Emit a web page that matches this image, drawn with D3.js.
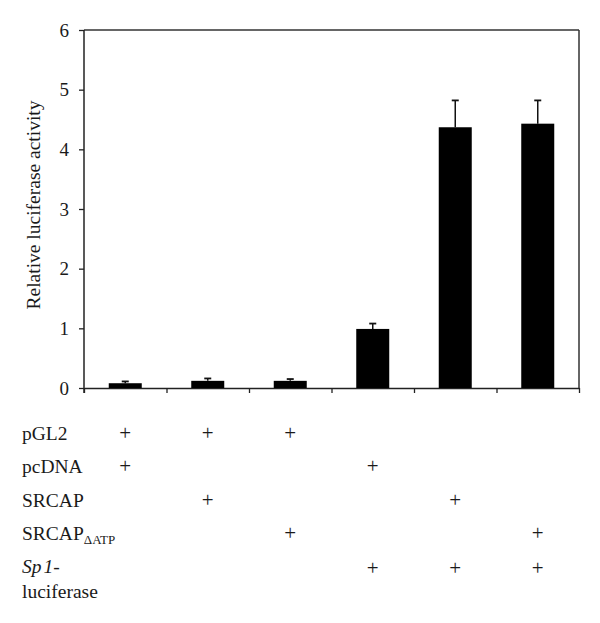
<!DOCTYPE html>
<html>
<head>
<meta charset="utf-8">
<script src="https://cdn.jsdelivr.net/npm/d3@7"></script>
<style>
  html, body { margin: 0; padding: 0; background: #fff; }
  svg text { font-family: "Liberation Serif", "Times New Roman", serif; fill: #1a1a1a; }
</style>
</head>
<body>
<svg id="chart" width="600" height="623"></svg>
<script>
// ---- data ----
const categories = ["pGL2+pcDNA", "pGL2+SRCAP", "pGL2+SRCAPdATP", "Sp1luc+pcDNA", "Sp1luc+SRCAP", "Sp1luc+SRCAPdATP"];
const values = [0.08, 0.12, 0.12, 0.99, 4.37, 4.43];
const errors = [0.03, 0.04, 0.03, 0.09, 0.45, 0.39];
const yTicks = [0, 1, 2, 3, 4, 5, 6];
const yLabel = "Relative luciferase activity";
const rowLabels = ["pGL2", "pcDNA", "SRCAP", "SRCAP_ΔATP", "Sp1-luciferase"];
const rowMarks = [
  [1, 1, 1, 0, 0, 0],
  [1, 0, 0, 1, 0, 0],
  [0, 1, 0, 0, 1, 0],
  [0, 0, 1, 0, 0, 1],
  [0, 0, 0, 1, 1, 1]
];

// ---- layout ----
const svg = d3.select("#chart");
const pL = 84, pR = 579, pT = 30, pB = 388;

const x = d3.scaleBand().domain(categories).range([pL, pR]).paddingInner(0.6).paddingOuter(0.3);
const xEdges = d3.scaleLinear().domain([0, categories.length]).range([pL, pR]);
const y = d3.scaleLinear().domain([0, 6]).range([pB, pT]);

// frame (top and right)
svg.append("line").attr("x1", pL).attr("x2", pR).attr("y1", pT).attr("y2", pT)
  .attr("stroke", "#333").attr("stroke-width", 1.5);
svg.append("line").attr("x1", pR).attr("x2", pR).attr("y1", pT).attr("y2", pB)
  .attr("stroke", "#333").attr("stroke-width", 1.5);

// y axis
const yAxis = svg.append("g").attr("transform", `translate(${pL},0)`)
  .call(d3.axisLeft(y).tickValues(yTicks).tickFormat(d3.format("d")).tickSize(5).tickPadding(10));
yAxis.select(".domain").attr("stroke", "#222").attr("stroke-width", 1.5).attr("d", `M0,${pT}V${pB + 5}`);
yAxis.selectAll(".tick line").attr("stroke", "#222").attr("stroke-width", 1.3);
yAxis.selectAll(".tick text").attr("font-size", 19).attr("fill", "#1a1a1a")
  .style("font-family", '"Liberation Serif", serif');

// x axis (boundary ticks, no labels)
const xAxis = svg.append("g").attr("transform", `translate(0,${pB})`)
  .call(d3.axisBottom(xEdges).tickValues(d3.range(categories.length + 1)).tickFormat("").tickSize(5).tickSizeOuter(0));
xAxis.select(".domain").attr("stroke", "#222").attr("stroke-width", 1.5);
xAxis.selectAll(".tick line").attr("stroke", "#222").attr("stroke-width", 1.3);

// y label
svg.append("text")
  .attr("transform", `translate(40,${(pT + pB) / 2 - 4}) rotate(-90)`)
  .attr("text-anchor", "middle")
  .attr("font-size", 19.5)
  .text(yLabel);

// error bars
const eb = svg.append("g");
categories.forEach((c, i) => {
  const cx = x(c) + x.bandwidth() / 2;
  eb.append("line").attr("x1", cx).attr("x2", cx)
    .attr("y1", y(values[i])).attr("y2", y(values[i] + errors[i]))
    .attr("stroke", "#111").attr("stroke-width", 1.5);
  eb.append("line").attr("x1", cx - 3.5).attr("x2", cx + 3.5)
    .attr("y1", y(values[i] + errors[i])).attr("y2", y(values[i] + errors[i]))
    .attr("stroke", "#111").attr("stroke-width", 1.8);
});

// bars
svg.append("g").selectAll("rect").data(categories).join("rect")
  .attr("x", d => x(d))
  .attr("width", x.bandwidth())
  .attr("y", (d, i) => y(values[i]))
  .attr("height", (d, i) => pB - y(values[i]))
  .attr("fill", "#000");

// table below
const rowBase = [440, 473.3, 506.6, 540, 573.3];
const tbl = svg.append("g");
rowLabels.forEach((lab, r) => {
  const t = tbl.append("text").attr("x", 22).attr("y", rowBase[r]).attr("font-size", 19.5);
  if (lab === "SRCAP_ΔATP") {
    t.append("tspan").text("SRCAP");
    t.append("tspan").attr("font-size", 13).attr("dy", 3.5).text("ΔATP");
  } else if (lab === "Sp1-luciferase") {
    t.append("tspan").attr("font-style", "italic").text("Sp");
    t.append("tspan").attr("font-style", "italic").attr("dx", 2).text("1");
    t.append("tspan").text("-");
    tbl.append("text").attr("x", 22).attr("y", rowBase[r] + 25).attr("font-size", 19.5).text("luciferase");
  } else {
    t.text(lab);
  }
  rowMarks[r].forEach((m, i) => {
    if (m) {
      tbl.append("text")
        .attr("x", x(categories[i]) + x.bandwidth() / 2)
        .attr("y", rowBase[r] + (r === 4 ? 2 : 0))
        .attr("text-anchor", "middle")
        .attr("font-size", 21)
        .attr("fill", "#222")
        .text("+");
    }
  });
});
</script>
</body>
</html>
